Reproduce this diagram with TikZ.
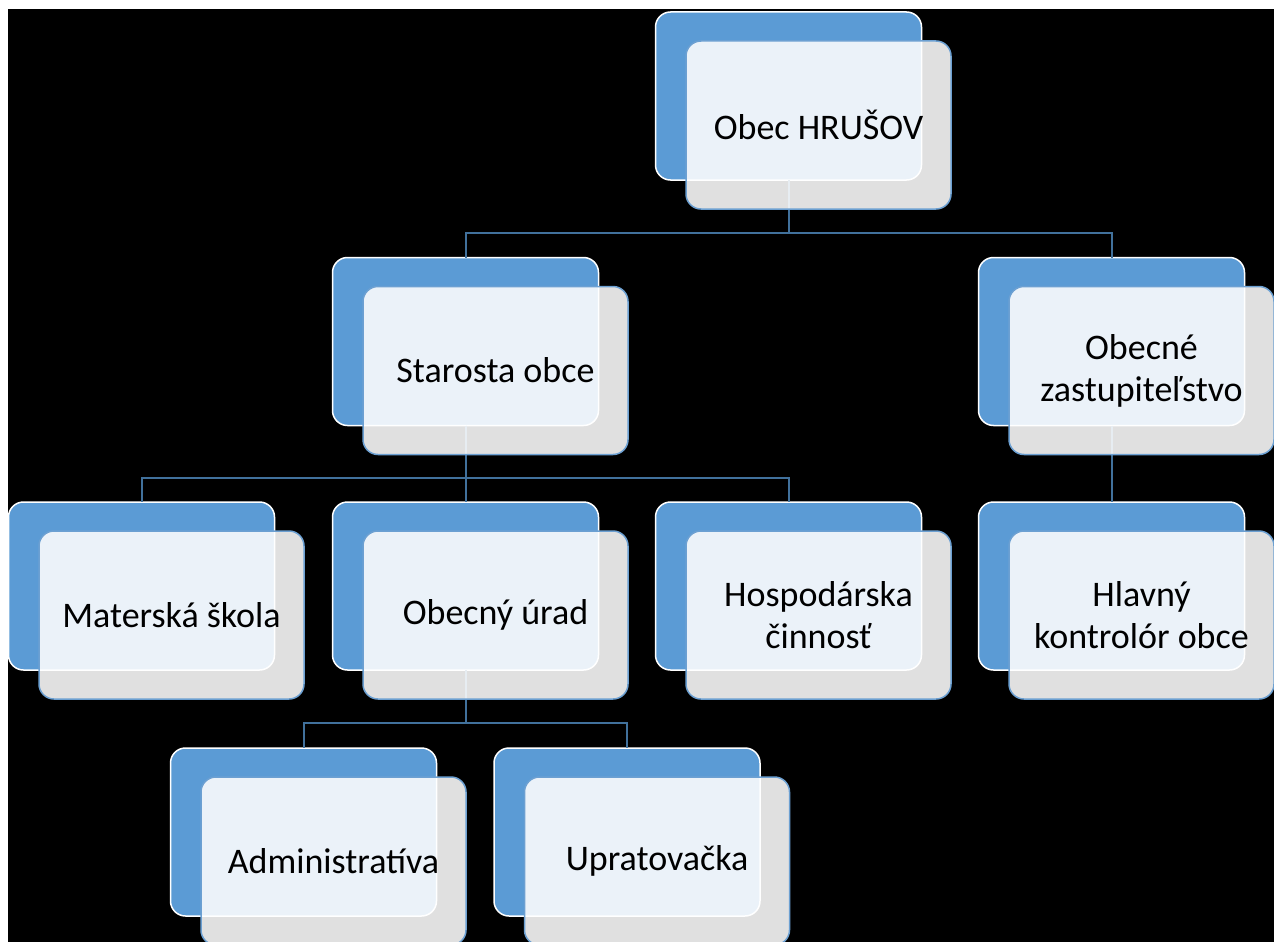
\documentclass[tikz,border=0pt]{standalone}
\usepackage{fontspec}
\setmainfont{Carlito}

\definecolor{boxblue}{RGB}{91,155,213}
\definecolor{edgeblue}{RGB}{108,160,210}
\definecolor{lineblue}{RGB}{65,113,156}

\begin{document}
\begin{tikzpicture}[x=1pt,y=-1pt,
    back/.style={draw=white, line width=1.5pt, fill=boxblue, rounded corners=15pt,
        minimum width=266pt, minimum height=168pt, inner sep=0pt, outer sep=0pt},
    front/.style={draw=edgeblue, line width=1.5pt, fill=white, fill opacity=0.88,
        text opacity=1, text=black, rounded corners=15pt,
        minimum width=265pt, minimum height=168pt, inner sep=0pt, outer sep=0pt,
        align=center, font=\fontsize{36}{42}\selectfont},
    link/.style={draw=lineblue, line width=2pt}]
            {
    \def\dx{30}
    \def\dy{29}

    \useasboundingbox (0,0) rectangle (1274,942);
    \fill[white] (0,0) rectangle (1274,942);
    \fill[black] (8,9) rectangle (1274,942);

    \coordinate (bus-a) at (0,233);
    \coordinate (bus-b) at (0,478);
    \coordinate (bus-c) at (0,723);

    \node[back] (hrusov) at (788.5,96) {};
    \node[back] (starosta) at (465.5,341.5) {};
    \node[back] (zastup) at (1111.5,341.5) {};
    \node[back] (skola) at (141.5,586) {};
    \node[back] (urad) at (465.5,586) {};
    \node[back] (hospodar) at (788.5,586) {};
    \node[back] (kontrolor) at (1111.5,586) {};
    \node[back] (admin) at (303.5,832) {};
    \node[back] (uprat) at (627,832) {};

    \draw[link] (hrusov.south) |- (starosta.north |- bus-a) -- (starosta.north);
    \draw[link] (hrusov.south) |- (zastup.north |- bus-a) -- (zastup.north);
    \draw[link] (starosta.south) -- (urad.north);
    \draw[link] (starosta.south) |- (skola.north |- bus-b) -- (skola.north);
    \draw[link] (starosta.south) |- (hospodar.north |- bus-b) -- (hospodar.north);
    \draw[link] (zastup.south) -- (kontrolor.north);
    \draw[link] (urad.south) |- (admin.north |- bus-c) -- (admin.north);
    \draw[link] (urad.south) |- (uprat.north |- bus-c) -- (uprat.north);

    \node[front] (hrusov-f) at ([shift={(\dx,\dy)}]hrusov.center) {Obec HRUŠOV};
    \node[front] (starosta-f) at ([shift={(\dx,\dy)}]starosta.center) {Starosta obce};
    \node[front] (zastup-f) at ([shift={(\dx,\dy)}]zastup.center) {Obecné\\zastupiteľstvo};
    \node[front] (skola-f) at ([shift={(\dx,\dy)}]skola.center) {Materská škola};
    \node[front] (urad-f) at ([shift={(\dx,\dy)}]urad.center) {Obecný úrad};
    \node[front] (hospodar-f) at ([shift={(\dx,\dy)}]hospodar.center) {Hospodárska\\činnosť};
    \node[front] (kontrolor-f) at ([shift={(\dx,\dy)}]kontrolor.center) {Hlavný\\kontrolór obce};
    \node[front] (admin-f) at ([shift={(\dx,\dy)}]admin.center) {Administratíva};
    \node[front] (uprat-f) at ([shift={(\dx,\dy)}]uprat.center) {Upratovačka};
}
\end{tikzpicture}
\end{document}
